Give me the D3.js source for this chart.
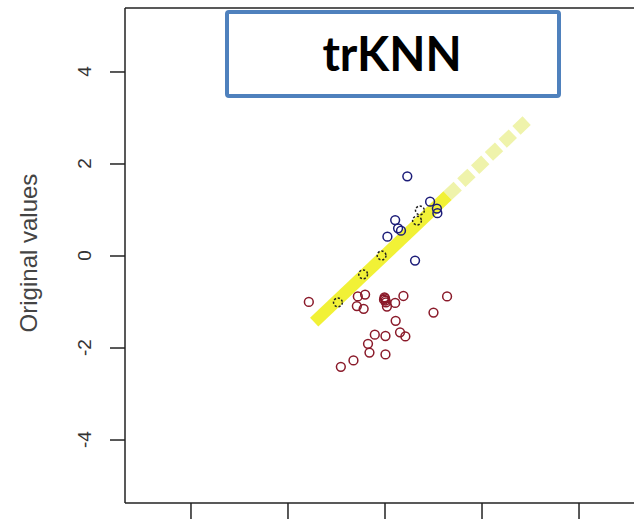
<!DOCTYPE html>
<html>
<head>
<meta charset="utf-8">
<script src="https://cdn.jsdelivr.net/npm/d3@7"></script>
<style>
  html, body { margin: 0; padding: 0; background: #fff; }
  svg { display: block; }
</style>
</head>
<body>
<svg id="chart" width="634" height="519"></svg>
<script>
// ---- data ----
const yTicks = [-4, -2, 0, 2, 4];
const xTicks = [-4, -2, 0, 2, 4];
const yTickLabels = ["-4", "-2", "0", "2", "4"];
const yLabel = "Original values";
const title = "trKNN";

// blue points (x, y)
const blueX = [0.47, 0.94, 1.08, 1.09, 0.22, 0.28, 0.34, 0.06, 0.63];
const blueY = [1.72, 1.17, 1.02, 0.92, 0.77, 0.59, 0.54, 0.41, -0.11];

// dark points lying on the yellow line
const lineX = [-0.96, -0.44, -0.06, 0.67, 0.73];
const lineY = [-1.02, -0.41, 0.00, 0.76, 0.98];

// red points (x, y)
const redX = [-1.56, -0.40, -0.55, -0.57, -0.43, 0.00, 0.02, 0.05, -0.01, 0.03, 0.01,
              0.22, 0.39, 1.29, 1.01, 0.23, -0.20, 0.02, 0.32, 0.43, -0.34, -0.31,
              0.02, -0.64, -0.90];
const redY = [-1.01, -0.85, -0.89, -1.10, -1.16, -0.91, -0.98, -1.11, -0.96, -1.02, -0.93,
              -1.03, -0.88, -0.89, -1.24, -1.42, -1.72, -1.75, -1.67, -1.76, -1.92, -2.11,
              -2.15, -2.28, -2.42];

// yellow y = x band
const yellowSolid = [-1.45, 1.30];
const yellowFaded = [1.30, 3.00];

// ---- drawing ----
const svg = d3.select("#chart");
const x = d3.scaleLinear().domain([-5.35, 5.35]).range([125, 644]);
const y = d3.scaleLinear().domain([-5.38, 5.38]).range([503, 8]);

// yellow band
const line = d3.line().x(d => x(d)).y(d => y(d));
svg.append("path")
  .attr("d", line(yellowFaded))
  .attr("fill", "none")
  .attr("stroke", "#e8ee88")
  .attr("stroke-opacity", 0.7)
  .attr("stroke-width", 12)
  .attr("stroke-dasharray", "14,5");
svg.append("path")
  .attr("d", line(yellowSolid))
  .attr("fill", "none")
  .attr("stroke", "#f0f020")
  .attr("stroke-opacity", 0.9)
  .attr("stroke-width", 12);

// points
function pts(xs, ys, color, dashed) {
  svg.append("g").selectAll("circle")
    .data(xs.map((v, i) => [v, ys[i]]))
    .join("circle")
    .attr("cx", d => x(d[0]))
    .attr("cy", d => y(d[1]))
    .attr("r", 4.4)
    .attr("fill", "none")
    .attr("stroke", color)
    .attr("stroke-width", 1.5)
    .attr("stroke-dasharray", dashed ? "2.2,1.8" : null);
}
pts(redX, redY, "#8a1a2a", false);
pts(blueX, blueY, "#1c1c78", false);
pts(lineX, lineY, "#202020", true);

// frame
svg.append("line").attr("x1", 125).attr("x2", 634).attr("y1", y(5.38)).attr("y2", y(5.38))
  .attr("stroke", "#222").attr("stroke-width", 1.5);
svg.append("line").attr("x1", 125).attr("x2", 125).attr("y1", y(5.38)).attr("y2", y(-5.38))
  .attr("stroke", "#222").attr("stroke-width", 1.5);
svg.append("line").attr("x1", 125).attr("x2", 634).attr("y1", y(-5.38)).attr("y2", y(-5.38))
  .attr("stroke", "#222").attr("stroke-width", 1.5);

// y axis ticks
const yAxis = d3.axisLeft(y).tickValues(yTicks).tickSize(15).tickFormat(() => "");
const gy = svg.append("g").attr("transform", "translate(125,0)").call(yAxis);
gy.select(".domain").remove();
gy.selectAll("line").attr("stroke", "#222").attr("stroke-width", 1.5);

// x axis ticks
const xAxis = d3.axisBottom(x).tickValues(xTicks).tickSize(16).tickFormat(() => "");
const gx = svg.append("g").attr("transform", `translate(0,${y(-5.38)})`).call(xAxis);
gx.select(".domain").remove();
gx.selectAll("line").attr("stroke", "#222").attr("stroke-width", 1.5);

// y tick labels (rotated like R)
svg.append("g").selectAll("text")
  .data(yTicks)
  .join("text")
  .attr("transform", d => `translate(84,${y(d)}) rotate(-90)`)
  .attr("dy", "0.35em")
  .attr("text-anchor", "middle")
  .attr("font-family", "Liberation Sans, Arial, sans-serif")
  .attr("font-size", 19)
  .attr("fill", "#333")
  .text((d, i) => yTickLabels[i]);

// y label
svg.append("text")
  .attr("transform", "translate(29,253) rotate(-90)")
  .attr("dy", "0.35em")
  .attr("text-anchor", "middle")
  .attr("font-family", "Liberation Sans, Arial, sans-serif")
  .attr("font-size", 24)
  .attr("fill", "#444")
  .text(yLabel);

// title box
svg.append("rect")
  .attr("x", 227).attr("y", 12).attr("width", 332).attr("height", 84)
  .attr("rx", 2)
  .attr("fill", "#fff")
  .attr("stroke", "#4f81bd")
  .attr("stroke-width", 4);
svg.append("text")
  .attr("x", 392).attr("y", 71)
  .attr("text-anchor", "middle")
  .attr("font-family", "Lato, Carlito, sans-serif")
  .attr("font-weight", "bold")
  .attr("font-size", 47)
  .attr("fill", "#000")
  .text(title);
</script>
</body>
</html>
